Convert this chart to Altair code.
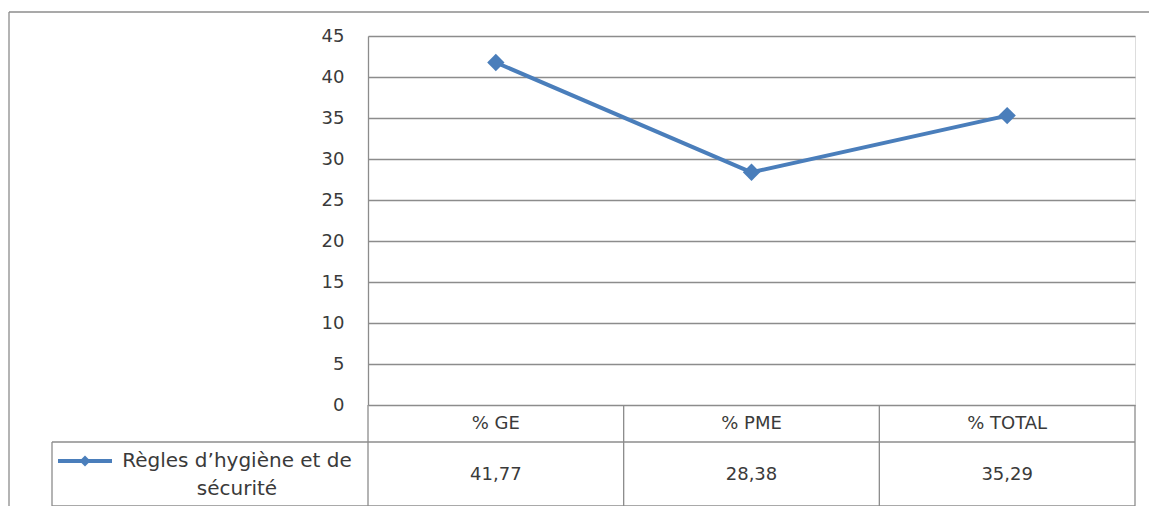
import altair as alt
import pandas as pd

categories = ["% GE", "% PME", "% TOTAL"]
values = [41.77, 28.38, 35.29]
series_name = "Règles d’hygiène et de\nsécurité"
y_ticks = [0, 5, 10, 15, 20, 25, 30, 35, 40, 45]

df = pd.DataFrame({
    "cat": categories,
    "value": values,
    "label": [f"{v:.2f}".replace(".", ",") for v in values],
})

W, H = 767, 369
PAD_L, PAD_T, PAD_R = 360, 28, 14
TOTAL_H = 498
PAD_B = TOTAL_H - PAD_T - H

BLUE = "#4a7ebb"
GRID = "#8c8c8c"
TXT = "#3a3a3a"
FONT = "DejaVu Sans"

xenc = alt.X("cat:N", sort=categories,
             scale=alt.Scale(type="point", padding=0.5), axis=None)

line = alt.Chart(df).mark_line(color=BLUE, strokeWidth=4).encode(
    x=xenc,
    y=alt.Y("value:Q", scale=alt.Scale(domain=[0, 45], nice=False),
            axis=alt.Axis(values=y_ticks, title=None, grid=True,
                          gridColor=GRID, gridWidth=1.3,
                          domain=True, domainColor=GRID, domainWidth=1.3,
                          ticks=False, labelPadding=24, labelFontSize=18,
                          labelColor=TXT, labelFont=FONT)),
)
pts = alt.Chart(df).mark_point(shape="diamond", filled=True, size=300,
                               color=BLUE, opacity=1).encode(
    x=xenc, y="value:Q")

one = alt.Data(values=[{"a": 1}])

def rule(x, x2, y, y2, color=GRID, w=1.3):
    return alt.Chart(one).mark_rule(color=color, strokeWidth=w).encode(
        x=alt.value(x), x2=alt.value(x2), y=alt.value(y), y2=alt.value(y2))

row1_top, row2_top, tbl_bot = H, 406, 470
leg_left = -316
step = W / len(categories)

decor = [
    # outer frame
    rule(-359, PAD_R + W, -24, -24),
    rule(-359, -359, -24, TOTAL_H - PAD_T),
    # table
    rule(leg_left, W, row2_top, row2_top),
    rule(leg_left, W, tbl_bot, tbl_bot),
    rule(leg_left, leg_left, row2_top, tbl_bot),
    rule(0, 0, H, tbl_bot),
]
for i in range(1, len(categories) + 1):
    decor.append(rule(step * i, step * i, row1_top, tbl_bot))

headers = alt.Chart(df).mark_text(fontSize=18, color=TXT, font=FONT,
                                  baseline="middle").encode(
    x=xenc, y=alt.value(388), text="cat:N")
vals = alt.Chart(df).mark_text(fontSize=18, color=TXT, font=FONT,
                               baseline="middle").encode(
    x=xenc, y=alt.value(439), text="label:N")

leg_df = pd.DataFrame({"name": [series_name]})
leg_line = alt.Chart(leg_df).mark_rule(color=BLUE, strokeWidth=4).encode(
    x=alt.value(-310), x2=alt.value(-256), y=alt.value(425), y2=alt.value(425))
leg_pt = alt.Chart(leg_df).mark_point(shape="diamond", filled=True, size=120,
                                      color=BLUE, opacity=1).encode(
    x=alt.value(-283), y=alt.value(425))
leg_txt = alt.Chart(leg_df).mark_text(fontSize=20, color=TXT, font=FONT,
                                      align="center", baseline="middle",
                                      lineBreak="\n", lineHeight=28).encode(
    x=alt.value(-131), y=alt.value(425), text="name:N")

chart = alt.layer(*decor, line, pts, headers, vals, leg_line, leg_pt, leg_txt).properties(
    width=W, height=H,
    autosize=alt.AutoSizeParams(type="none"),
    padding={"left": PAD_L, "top": PAD_T, "right": PAD_R, "bottom": PAD_B},
).configure_view(strokeWidth=0).configure(background="white")

chart.save("out.html", embed_options={"renderer": "svg", "actions": False})
